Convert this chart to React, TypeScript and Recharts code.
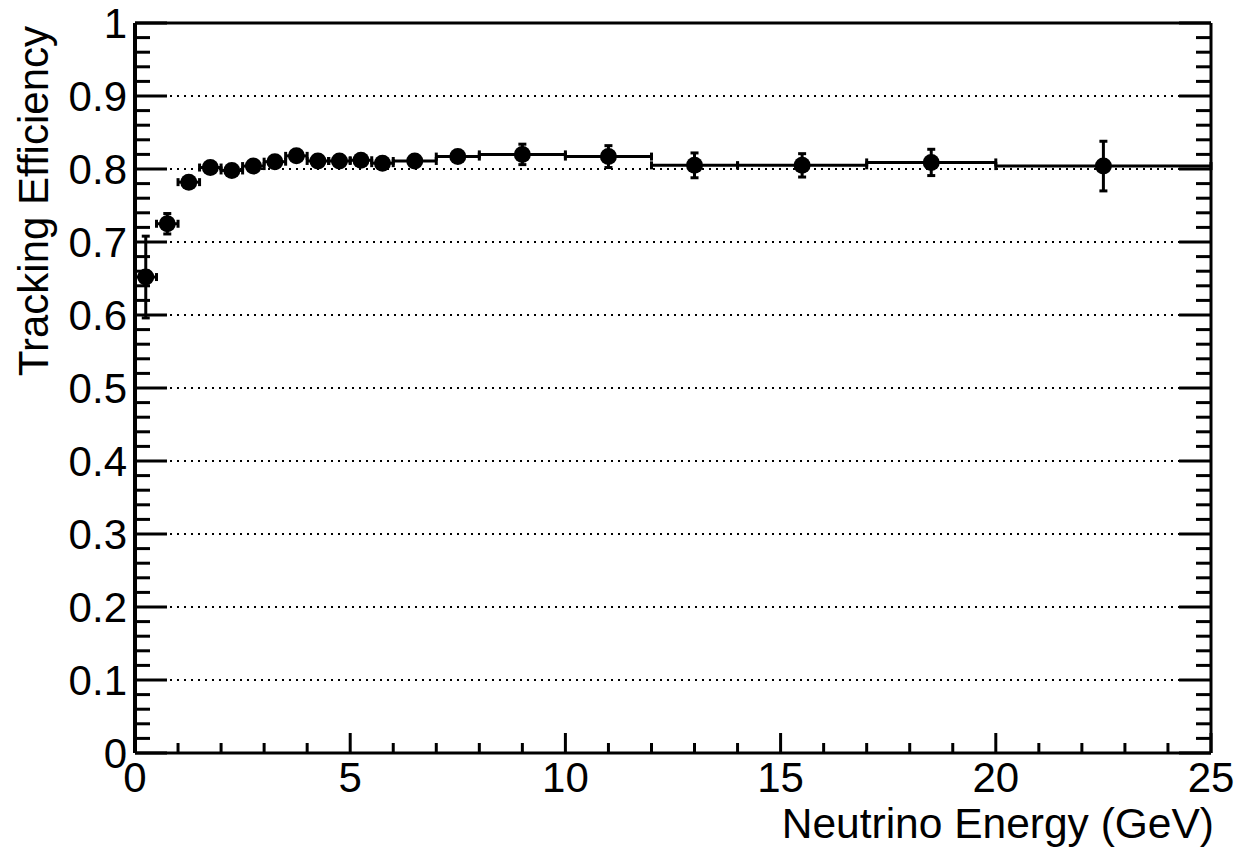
import {
  CartesianGrid,
  ErrorBar,
  Label,
  Scatter,
  ScatterChart,
  XAxis,
  YAxis,
} from "recharts";

// bin centres (GeV) and half widths of each energy bin
const energy = [
  0.25, 0.75, 1.25, 1.75, 2.25, 2.75, 3.25, 3.75, 4.25, 4.75, 5.25, 5.75, 6.5,
  7.5, 9, 11, 13, 15.5, 18.5, 22.5,
];
const binHalfWidth = [
  0.25, 0.25, 0.25, 0.25, 0.25, 0.25, 0.25, 0.25, 0.25, 0.25, 0.25, 0.25, 0.5,
  0.5, 1, 1, 1, 1.5, 1.5, 2.5,
];
const efficiency = [
  0.652, 0.725, 0.782, 0.802, 0.798, 0.804, 0.81, 0.818, 0.811, 0.811, 0.812,
  0.808, 0.811, 0.817, 0.82, 0.817, 0.805, 0.805, 0.809, 0.804,
];
const effError = [
  0.056, 0.014, 0.004, 0.004, 0.004, 0.004, 0.004, 0.004, 0.004, 0.004, 0.004,
  0.004, 0.004, 0.005, 0.014, 0.015, 0.017, 0.016, 0.018, 0.034,
];

const xMajorTicks = [0, 5, 10, 15, 20, 25];
const yMajorTicks = [0, 0.1, 0.2, 0.3, 0.4, 0.5, 0.6, 0.7, 0.8, 0.9, 1];
const yMajorLabels = ["0", "0.1", "0.2", "0.3", "0.4", "0.5", "0.6", "0.7", "0.8", "0.9", "1"];

const xTitle = "Neutrino Energy (GeV)";
const yTitle = "Tracking Efficiency";

// minor ticks: every 1 GeV on x, every 0.02 on y
const xTicks = Array.from({ length: 26 }, (_, i) => i);
const yTicks = Array.from({ length: 51 }, (_, i) => (i * 2) / 100);
const gridValues = yMajorTicks.slice(1, -1);

const points = energy.map((e, i) => ({
  energy: e,
  ex: binHalfWidth[i],
  eff: efficiency[i],
  ey: effError[i],
}));

const FONT = '"Liberation Sans", Arial, Helvetica, sans-serif';

const majorIndex = (v: number, majors: number[]) =>
  majors.findIndex((m) => Math.abs(m - v) < 1e-6);

function BottomTick(props: any) {
  const { x, y, payload } = props;
  const major = majorIndex(payload.value, xMajorTicks) >= 0;
  return (
    <g>
      <line x1={x} x2={x} y1={y} y2={y - (major ? 20 : 10)} stroke="#000" strokeWidth={3} />
      {major && (
        <text x={x} y={y + 39} textAnchor="middle" fontSize={42} fontFamily={FONT} fill="#000">
          {payload.value}
        </text>
      )}
    </g>
  );
}

function LeftTick(props: any) {
  const { x, y, payload } = props;
  const idx = majorIndex(payload.value, yMajorTicks);
  const major = idx >= 0;
  return (
    <g>
      <line x1={x} x2={x + (major ? 32 : 15)} y1={y} y2={y} stroke="#000" strokeWidth={3} />
      {major && (
        <text x={x - 8} y={y + 15} textAnchor="end" fontSize={42} fontFamily={FONT} fill="#000">
          {yMajorLabels[idx]}
        </text>
      )}
    </g>
  );
}

function RightTick(props: any) {
  const { x, y, payload } = props;
  const major = majorIndex(payload.value, yMajorTicks) >= 0;
  return <line x1={x} x2={x - (major ? 32 : 15)} y1={y} y2={y} stroke="#000" strokeWidth={3} />;
}

function Dot(props: any) {
  return <circle cx={props.cx} cy={props.cy} r={8.5} fill="#000" />;
}

export default function App() {
  return (
    <div style={{ position: "fixed", left: 0, top: 0, background: "#fff" }}>
      <ScatterChart
        width={1239}
        height={847}
        margin={{ top: 22, right: 27, bottom: 93, left: 134 }}
      >
        <CartesianGrid
          vertical={false}
          horizontalValues={gridValues}
          stroke="#000"
          strokeWidth={2}
          strokeDasharray="2 5"
        />
        <XAxis
          dataKey="energy"
          type="number"
          domain={[0, 25]}
          ticks={xTicks}
          interval={0}
          height={1}
          tickSize={0}
          tickMargin={0}
          tickLine={false}
          tick={<BottomTick />}
          axisLine={{ stroke: "#000", strokeWidth: 3 }}
          allowDataOverflow
        >
          <Label
            content={({ viewBox }: any) => (
              <text
                x={viewBox.x + viewBox.width + 3}
                y={viewBox.y + 85}
                textAnchor="end"
                fontSize={42.5}
                fontFamily={FONT}
                fill="#000"
              >
                {xTitle}
              </text>
            )}
          />
        </XAxis>
        <XAxis
          xAxisId="top"
          orientation="top"
          type="number"
          domain={[0, 25]}
          height={1}
          tick={false}
          tickLine={false}
          axisLine={{ stroke: "#000", strokeWidth: 3 }}
          allowDataOverflow
        />
        <YAxis
          dataKey="eff"
          type="number"
          domain={[0, 1]}
          ticks={yTicks}
          interval={0}
          width={1}
          tickSize={0}
          tickMargin={0}
          tickLine={false}
          tick={<LeftTick />}
          axisLine={{ stroke: "#000", strokeWidth: 4 }}
          allowDataOverflow
        >
          <Label
            content={({ viewBox }: any) => (
              <text
                x={viewBox.x - 86}
                y={viewBox.y + 3}
                transform={`rotate(-90 ${viewBox.x - 86} ${viewBox.y + 3})`}
                textAnchor="end"
                fontSize={42}
                fontFamily={FONT}
                fill="#000"
              >
                {yTitle}
              </text>
            )}
          />
        </YAxis>
        <YAxis
          yAxisId="right"
          orientation="right"
          type="number"
          domain={[0, 1]}
          ticks={yTicks}
          interval={0}
          width={1}
          tickSize={0}
          tickMargin={0}
          tickLine={false}
          tick={<RightTick />}
          axisLine={{ stroke: "#000", strokeWidth: 3 }}
          allowDataOverflow
        />
        <Scatter data={points} fill="#000" shape={<Dot />} isAnimationActive={false}>
          <ErrorBar dataKey="ex" direction="x" width={4} stroke="#000" strokeWidth={3} isAnimationActive={false} />
          <ErrorBar dataKey="ey" direction="y" width={4} stroke="#000" strokeWidth={3} isAnimationActive={false} />
        </Scatter>
      </ScatterChart>
    </div>
  );
}
